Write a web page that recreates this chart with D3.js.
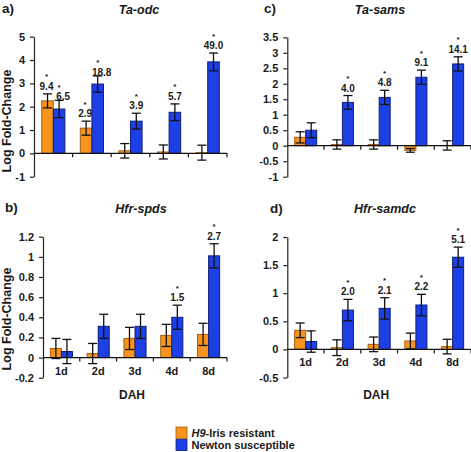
<!DOCTYPE html>
<html>
<head>
<meta charset="utf-8">
<script src="https://cdn.jsdelivr.net/npm/d3@7"></script>
<style>
  html, body { margin: 0; padding: 0; background: #fff; }
  svg { display: block; }
  text { font-family: "Liberation Sans", Arial, sans-serif; font-weight: bold; fill: #1a1a1a; }
</style>
</head>
<body>
<svg id="chart" width="471" height="452"></svg>
<script>
// ---------------- DATA ----------------
const categories = ["1d", "2d", "3d", "4d", "8d"];
const seriesNames = ["H9-Iris resistant", "Newton susceptible"];

// a) Ta-odc
const odcResistant      = [2.25, 1.08, 0.11, 0.06, 0.03];
const odcResistantErr   = [0.30, 0.30, 0.31, 0.30, 0.32];
const odcSusceptible    = [1.90, 2.97, 1.38, 1.76, 3.92];
const odcSusceptibleErr = [0.37, 0.35, 0.34, 0.36, 0.38];
const odcLabelsR = ["9.4", "2.9", null, null, null];
const odcLabelsS = ["6.5", "18.8", "3.9", "5.7", "49.0"];
const odcTicks = [-1, 0, 1, 2, 3, 4, 5];

// b) Hfr-spds
const spdsResistant      = [0.09, 0.04, 0.19, 0.22, 0.23];
const spdsResistantErr   = [0.10, 0.10, 0.11, 0.11, 0.11];
const spdsSusceptible    = [0.06, 0.31, 0.31, 0.40, 1.01];
const spdsSusceptibleErr = [0.12, 0.12, 0.12, 0.12, 0.12];
const spdsLabelsR = [null, null, null, null, null];
const spdsLabelsS = [null, null, null, "1.5", "2.7"];
const spdsTicks = [-0.2, 0, 0.2, 0.4, 0.6, 0.8, 1, 1.2];

// c) Ta-sams
const samsResistant      = [0.27, 0.04, 0.04, -0.15, 0.01];
const samsResistantErr   = [0.18, 0.15, 0.15, 0.06, 0.15];
const samsSusceptible    = [0.50, 1.40, 1.56, 2.21, 2.64];
const samsSusceptibleErr = [0.24, 0.22, 0.23, 0.23, 0.23];
const samsLabelsR = [null, null, null, null, null];
const samsLabelsS = [null, "4.0", "4.8", "9.1", "14.1"];
const samsTicks = [-1, -0.5, 0, 0.5, 1, 1.5, 2, 2.5, 3, 3.5];

// d) Hfr-samdc
const samdcResistant      = [0.34, 0.03, 0.09, 0.15, 0.05];
const samdcResistantErr   = [0.13, 0.14, 0.13, 0.14, 0.13];
const samdcSusceptible    = [0.14, 0.70, 0.73, 0.79, 1.64];
const samdcSusceptibleErr = [0.19, 0.19, 0.19, 0.19, 0.18];
const samdcLabelsR = [null, null, null, null, null];
const samdcLabelsS = [null, "2.0", "2.1", "2.2", "5.1"];
const samdcTicks = [-0.5, 0, 0.5, 1, 1.5, 2];

// ---------------- LAYOUT ----------------
const colors = ["#F7941D", "#1D3FE6"];
const strokes = ["#a65e0c", "#0d1f7c"];

const panels = [
  { letter: "a)", title: "Ta-odc", vals: [odcResistant, odcSusceptible], errs: [odcResistantErr, odcSusceptibleErr],
    labels: [odcLabelsR, odcLabelsS], ticks: odcTicks,
    x0: 34, x1: 227, yTop: 36.7, yBot: 176.7, showX: false, letterX: 2, letterY: 12.5, titleY: 14, titleX: 139, ylabY: 121 },
  { letter: "b)", title: "Hfr-spds", vals: [spdsResistant, spdsSusceptible], errs: [spdsResistantErr, spdsSusceptibleErr],
    labels: [spdsLabelsR, spdsLabelsS], ticks: spdsTicks,
    x0: 43, x1: 227, yTop: 236.7, yBot: 377.7, showX: true, letterX: 5, letterY: 212, titleY: 213, titleX: 141, ylabY: 319 },
  { letter: "c)", title: "Ta-sams", vals: [samsResistant, samsSusceptible], errs: [samsResistantErr, samsSusceptibleErr],
    labels: [samsLabelsR, samsLabelsS], ticks: samsTicks,
    x0: 287.3, x1: 471, yTop: 37.3, yBot: 176.7, showX: false, letterX: 264, letterY: 13, titleY: 14, titleX: 380 },
  { letter: "d)", title: "Hfr-samdc", vals: [samdcResistant, samdcSusceptible], errs: [samdcResistantErr, samdcSusceptibleErr],
    labels: [samdcLabelsR, samdcLabelsS], ticks: samdcTicks,
    x0: 287.3, x1: 471, yTop: 237, yBot: 377.5, showX: true, letterX: 270, letterY: 213, titleY: 213, titleX: 385 }
];

const svg = d3.select("#chart");
const fmt = v => String(+v.toFixed(1));

panels.forEach(p => {
  const g = svg.append("g");
  const ticks = p.ticks;
  const y = d3.scaleLinear().domain([d3.min(ticks), d3.max(ticks)]).range([p.yBot, p.yTop]);
  const x = d3.scaleBand().domain(categories).range([p.x0, p.x1]);
  const bw = x.bandwidth() * 0.3;

  // y axis
  const yAxis = d3.axisLeft(y).tickValues(ticks).tickSize(4).tickSizeOuter(0).tickPadding(5).tickFormat(fmt);
  const ya = g.append("g").attr("transform", `translate(${p.x0},0)`).call(yAxis);
  ya.select(".domain").attr("stroke", "#222").attr("stroke-width", 1.2);
  ya.selectAll(".tick line").attr("stroke", "#222").attr("stroke-width", 1.2);
  ya.selectAll(".tick text").attr("font-size", 11).style("font-weight", "bold").attr("fill", "#1a1a1a")
    .attr("font-family", '"Liberation Sans", Arial, sans-serif');

  // bars
  [0, 1].forEach(s => {
    const off = s === 0 ? -bw : 0;
    g.selectAll(null).data(categories).enter().append("rect")
      .attr("x", d => x(d) + x.bandwidth() / 2 + off)
      .attr("width", bw)
      .attr("y", (d, i) => y(Math.max(0, p.vals[s][i])))
      .attr("height", (d, i) => Math.abs(y(p.vals[s][i]) - y(0)))
      .attr("fill", colors[s]).attr("stroke", strokes[s]).attr("stroke-width", 1);
  });

  // zero axis with category ticks at band boundaries
  g.append("line").attr("x1", p.x0).attr("x2", p.x1).attr("y1", y(0)).attr("y2", y(0))
    .attr("stroke", "#111").attr("stroke-width", 1.2);
  const bounds = categories.map(c => x(c)).concat([p.x1]);
  g.selectAll(null).data(bounds.slice(1)).enter().append("line")
    .attr("x1", d => d).attr("x2", d => d).attr("y1", y(0)).attr("y2", y(0) + 4)
    .attr("stroke", "#111").attr("stroke-width", 1.2);

  // error bars + labels
  [0, 1].forEach(s => {
    const cx = (i) => x(categories[i]) + x.bandwidth() / 2 + (s === 0 ? -bw / 2 : bw / 2);
    categories.forEach((c, i) => {
      const v = p.vals[s][i], e = p.errs[s][i];
      const xc = cx(i);
      const eg = g.append("g").attr("stroke", "#111").attr("stroke-width", 1.3);
      eg.append("line").attr("x1", xc).attr("x2", xc).attr("y1", y(v + e)).attr("y2", y(v - e));
      eg.append("line").attr("x1", xc - 4.5).attr("x2", xc + 4.5).attr("y1", y(v + e)).attr("y2", y(v + e));
      eg.append("line").attr("x1", xc - 4.5).attr("x2", xc + 4.5).attr("y1", y(v - e)).attr("y2", y(v - e));
      const lab = p.labels[s][i];
      if (lab) {
        // when both bars of a group carry a label, nudge them apart
        const both = p.labels[0][i] && p.labels[1][i];
        const lx = xc + (both ? (s === 0 ? -1 : 4) : 0);
        const base = y(v + e) - (both && s === 1 ? 0 : 4);
        g.append("text").attr("x", lx).attr("y", base).attr("text-anchor", "middle")
          .attr("font-size", 10).text(lab);
        g.append("text").attr("x", lx - (both && s === 1 ? 4 : 0)).attr("y", base - 10.5)
          .attr("text-anchor", "middle").attr("font-size", 8).text("*");
      }
    });
  });

  // category labels
  if (p.showX) {
    g.selectAll(null).data(categories).enter().append("text")
      .attr("x", d => x(d) + x.bandwidth() / 2).attr("y", y(0) + 17)
      .attr("text-anchor", "middle").attr("font-size", 11).text(d => d);
    g.append("text").attr("x", (p.x0 + p.x1) / 2 - 3).attr("y", 399)
      .attr("text-anchor", "middle").attr("font-size", 12).text("DAH");
  }

  // letters & titles
  g.append("text").attr("x", p.letterX).attr("y", p.letterY).attr("font-size", 13.5).text(p.letter);
  g.append("text").attr("x", p.titleX).attr("y", p.titleY).attr("text-anchor", "middle")
    .attr("font-size", 12.5).attr("font-style", "italic").text(p.title);

  if (p.ylabY) {
    g.append("text").attr("transform", `translate(11,${p.ylabY}) rotate(-90)`)
      .attr("text-anchor", "middle").attr("font-size", 12.5).text("Log Fold-Change");
  }
});

// legend
const lg = svg.append("g");
seriesNames.forEach((n, i) => {
  lg.append("rect").attr("x", 176).attr("y", 427 + i * 12.3).attr("width", 11).attr("height", 11.3)
    .attr("fill", colors[i]).attr("stroke", strokes[i]).attr("stroke-width", 0.8);
});
const t1 = lg.append("text").attr("x", 191.5).attr("y", 436.5).attr("font-size", 11);
t1.append("tspan").attr("font-style", "italic").text("H9");
t1.append("tspan").text("-Iris resistant");
lg.append("text").attr("x", 191.5).attr("y", 449).attr("font-size", 11).text(seriesNames[1]);
</script>
</body>
</html>
